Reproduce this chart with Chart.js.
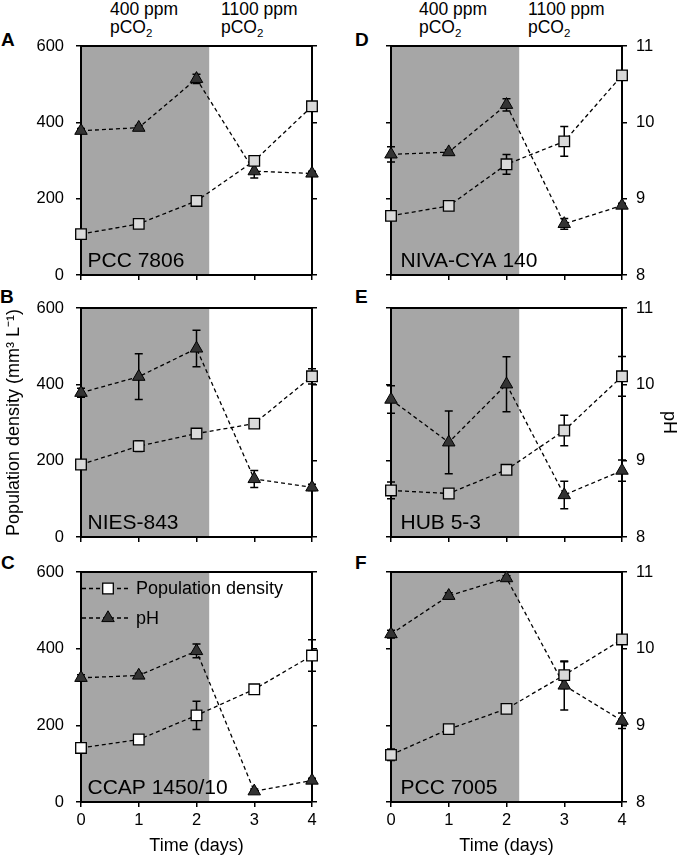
<!DOCTYPE html>
<html><head><meta charset="utf-8">
<script src="https://cdn.jsdelivr.net/npm/chart.js@4.4.1/dist/chart.umd.min.js"></script>
<style>
body{margin:0;background:#fff;width:680px;height:861px;position:relative;overflow:hidden;font-family:"Liberation Sans",Arial,sans-serif;color:#000;}
canvas{position:absolute;}
.t{position:absolute;white-space:nowrap;}
.hdr{font-size:17.5px;line-height:18px;}
.hdr sub{font-size:11.5px;vertical-align:-4px;line-height:0;}
.let{font-size:19px;font-weight:bold;line-height:19px;}
</style></head><body>

<div class="t let" style="left:1px;top:30px">A</div>
<div class="t let" style="left:0px;top:287px">B</div>
<div class="t let" style="left:1px;top:553px">C</div>
<div class="t let" style="left:355px;top:30px">D</div>
<div class="t let" style="left:355px;top:287px">E</div>
<div class="t let" style="left:355px;top:553px">F</div>

<div class="t hdr" style="left:110px;top:0px">400 ppm<br>pCO<sub>2</sub></div>
<div class="t hdr" style="left:221px;top:0px">1100 ppm<br>pCO<sub>2</sub></div>
<div class="t hdr" style="left:419px;top:0px">400 ppm<br>pCO<sub>2</sub></div>
<div class="t hdr" style="left:528px;top:0px">1100 ppm<br>pCO<sub>2</sub></div>

<canvas id="cA"></canvas><canvas id="cB"></canvas><canvas id="cC"></canvas>
<canvas id="cD"></canvas><canvas id="cE"></canvas><canvas id="cF"></canvas>

<script>
// ---------- data ----------
const days = [0, 1, 2, 3, 4];
const shadeEnd = 2.22;            // end of 400 ppm period (days)
const popRange = [0, 600];
const phRange = [8, 11];
const strains = ['PCC 7806', 'NIES-843', 'CCAP 1450/10', 'NIVA-CYA 140', 'HUB 5-3', 'PCC 7005'];
const seriesNames = ['Population density', 'pH'];

const popA = [107, 134, 194, 299, 442];
const popErrA = [4, 5, 6, 12, 10];
const phA = [9.89, 9.93, 10.57, 9.36, 9.33];
const phErrA = [0.03, 0.03, 0.06, 0.09, 0.03];

const popB = [190, 238, 271, 297, 421];
const popErrB = [8, 14, 8, 6, 20];
const phB = [9.89, 10.10, 10.47, 8.76, 8.65];
const phErrB = [0.06, 0.30, 0.24, 0.11, 0.04];

const popC = [141, 163, 226, 294, 382];
const popErrC = [8, 6, 37, 8, 41];
const phC = [9.62, 9.65, 9.97, 8.14, 8.28];
const phErrC = [0.04, 0.03, 0.09, 0.03, 0.03];

const popD = [155, 181, 290, 350, 523];
const popErrD = [8, 8, 26, 39, 10];
const phD = [9.58, 9.61, 10.23, 8.67, 8.91];
const phErrD = [0.10, 0.03, 0.08, 0.07, 0.03];

const popE = [122, 114, 176, 279, 421];
const popErrE = [22, 10, 8, 40, 52];
const phE = [9.80, 9.24, 10.00, 8.55, 8.87];
const phErrE = [0.18, 0.41, 0.36, 0.18, 0.14];

const popF = [123, 190, 243, 331, 424];
const popErrF = [15, 6, 6, 35, 8];
const phF = [10.19, 10.69, 10.92, 9.52, 9.06];
const phErrF = [0.05, 0.04, 0.03, 0.32, 0.10];

// ---------- layout / style ----------
const FONT = '"Liberation Sans", Arial, sans-serif';
Chart.defaults.font.family = FONT;
Chart.defaults.color = '#000';

const panels = [
  {id:'cA', strain:0, pop:popA, popErr:popErrA, ph:phA, phErr:phErrA, col:0, row:0},
  {id:'cB', strain:1, pop:popB, popErr:popErrB, ph:phB, phErr:phErrB, col:0, row:1, yTitle:true},
  {id:'cC', strain:2, pop:popC, popErr:popErrC, ph:phC, phErr:phErrC, col:0, row:2, legend:true, white:true},
  {id:'cD', strain:3, pop:popD, popErr:popErrD, ph:phD, phErr:phErrD, col:1, row:0},
  {id:'cE', strain:4, pop:popE, popErr:popErrE, ph:phE, phErr:phErrE, col:1, row:1, phTitle:true},
  {id:'cF', strain:5, pop:popF, popErr:popErrF, ph:phF, phErr:phErrF, col:1, row:2},
];
const rowGeom = [ {top:36, h:249, bottomH:10}, {top:298, h:249, bottomH:10}, {top:562, h:299, bottomH:59} ];
const colGeom = [ {left:0, w:340, leftW:81, rightW:28}, {left:340, w:340, leftW:51, rightW:58} ];

function noPad(s){ s.paddingTop = 0; s.paddingBottom = 0; s.paddingLeft = 0; s.paddingRight = 0; }

const shadePlugin = {
  id:'shade',
  beforeDraw(chart){
    const {ctx, chartArea:a, scales:{x}} = chart;
    const x0 = x.getPixelForValue(0), x1 = x.getPixelForValue(shadeEnd);
    ctx.save(); ctx.fillStyle = '#a6a6a6';
    ctx.fillRect(x0, a.top, x1 - x0, a.bottom - a.top);
    ctx.restore();
  }
};
const errorPlugin = {
  id:'errbars',
  beforeDatasetsDraw(chart, args, opts){
    const ctx = chart.ctx, a = chart.chartArea;
    ctx.save(); ctx.fillStyle = '#000'; ctx.font = '21px ' + FONT; ctx.textBaseline = 'alphabetic';
    ctx.fillText(opts.label, a.left + opts.labelDx, a.bottom - 8);
    ctx.restore();
    chart.data.datasets.forEach((ds, i) => {
      const meta = chart.getDatasetMeta(i);
      const ys = chart.scales[ds.yAxisID];
      ctx.save(); ctx.strokeStyle = '#000'; ctx.lineWidth = 1.5;
      meta.data.forEach((pt, j) => {
        const e = ds.errors[j]; if (!e) return;
        const v = ds.data[j].y;
        const y1 = ys.getPixelForValue(v + e), y2 = ys.getPixelForValue(v - e);
        const x = pt.x;
        ctx.beginPath();
        ctx.moveTo(x, y1); ctx.lineTo(x, y2);
        ctx.moveTo(x - 4, y1); ctx.lineTo(x + 4, y1);
        ctx.moveTo(x - 4, y2); ctx.lineTo(x + 4, y2);
        ctx.stroke();
      });
      ctx.restore();
    });
  }
};
const legendPlugin = {
  id:'inLegend',
  afterDatasetsDraw(chart, args, opts){
    if (!opts.show) return;
    const ctx = chart.ctx, a = chart.chartArea;
    chart.data.datasets.forEach((ds, i) => {
      const y = a.top + 16.5 + i * 29.5;
      const x0 = a.left + 1, x1 = a.left + 47, xm = a.left + 27;
      ctx.save(); ctx.strokeStyle = '#000'; ctx.lineWidth = 1.3; ctx.setLineDash([4,3]);
      ctx.beginPath(); ctx.moveTo(x0, y); ctx.lineTo(x1, y); ctx.stroke(); ctx.restore();
      ctx.save(); ctx.fillStyle = ds.pointBackgroundColor; ctx.strokeStyle = '#000'; ctx.lineWidth = ds.pointBorderWidth;
      Chart.helpers.drawPoint(ctx, {pointStyle: ds.pointStyle, radius: ds.pointRadius, borderWidth: ds.pointBorderWidth, rotation: 0}, xm, y);
      ctx.restore();
      ctx.save(); ctx.fillStyle = '#000'; ctx.font = '18px ' + FONT; ctx.textBaseline = 'middle';
      ctx.fillText(ds.label, a.left + 55, y + 1); ctx.restore();
    });
  }
};

const tickFont = {size:16.5};
const titleFont = {size:18};
function mk(p){
  const rg = rowGeom[p.row], cg = colGeom[p.col];
  const cv = document.getElementById(p.id);
  cv.width = cg.w; cv.height = rg.h;
  cv.style.left = cg.left + 'px'; cv.style.top = rg.top + 'px';
  const bottomRow = p.row === 2;
  const gridOpts = {drawOnChartArea:false, drawTicks:true, tickLength:5, color:'#000', lineWidth:1.5};
  const borderOpts = {display:true, color:'#000', width:2};
  new Chart(cv, {
    type:'line',
    data:{datasets:[
      {label:seriesNames[0], data:days.map((d,i)=>({x:d, y:p.pop[i]})), errors:p.popErr, yAxisID:'y',
       borderColor:'#000', borderWidth:1.3, borderDash:[4,3], fill:false, tension:0,
       pointStyle:'rect', pointRadius:7.5, pointHoverRadius:7.5, pointBackgroundColor:p.white ? '#ffffff' : '#d9d9d9',
       pointBorderColor:'#000', pointBorderWidth:1.3, clip:false},
      {label:seriesNames[1], data:days.map((d,i)=>({x:d, y:p.ph[i]})), errors:p.phErr, yAxisID:'y1',
       borderColor:'#000', borderWidth:1.3, borderDash:[4,3], fill:false, tension:0,
       pointStyle:'triangle', pointRadius:7.2, pointHoverRadius:7.2, pointBackgroundColor:'#333333',
       pointBorderColor:'#000', pointBorderWidth:1, clip:false}
    ]},
    options:{
      responsive:false, animation:false, events:[],
      layout:{padding:0},
      plugins:{legend:{display:false}, tooltip:{enabled:false},
        errbars:{label:strains[p.strain], labelDx: p.col === 0 ? 6.5 : 9.5},
        inLegend:{show:!!p.legend}},
      scales:{
        x:{type:'linear', position:'bottom', min:0, max:4,
           ticks:{stepSize:1, display:bottomRow, font:tickFont, padding:4, maxRotation:0},
           grid:gridOpts, border:borderOpts,
           title:{display:bottomRow, text:'Time (days)', font:titleFont, padding:{top:0, bottom:4}},
           afterFit(s){ s.height = rg.bottomH; noPad(s); }},
        xTop:{type:'linear', position:'top', min:0, max:4,
           ticks:{display:false}, grid:{display:false, drawTicks:false}, border:borderOpts,
           afterFit(s){ s.height = 10; noPad(s); }},
        y:{type:'linear', position:'left', min:popRange[0], max:popRange[1],
           ticks:{stepSize:200, display:p.col === 0, font:tickFont, padding:12},
           grid:gridOpts, border:borderOpts,
           title:{display:!!p.yTitle, text:'Population density (mm\u00B3 L\u207B\u00B9)', font:titleFont, padding:{top:3, bottom:0}},
           afterFit(s){ s.width = cg.leftW; noPad(s); }},
        y1:{type:'linear', position:'right', min:phRange[0], max:phRange[1],
           ticks:{stepSize:1, display:p.col === 1, font:tickFont, padding:9},
           grid:gridOpts, border:borderOpts,
           title:{display:!!p.phTitle, text:'pH', font:titleFont, padding:{top:0, bottom:0}},
           afterFit(s){ s.width = cg.rightW; noPad(s); }}
      }
    },
    plugins:[shadePlugin, errorPlugin, legendPlugin]
  });
}
panels.forEach(mk);
</script>
</body></html>
